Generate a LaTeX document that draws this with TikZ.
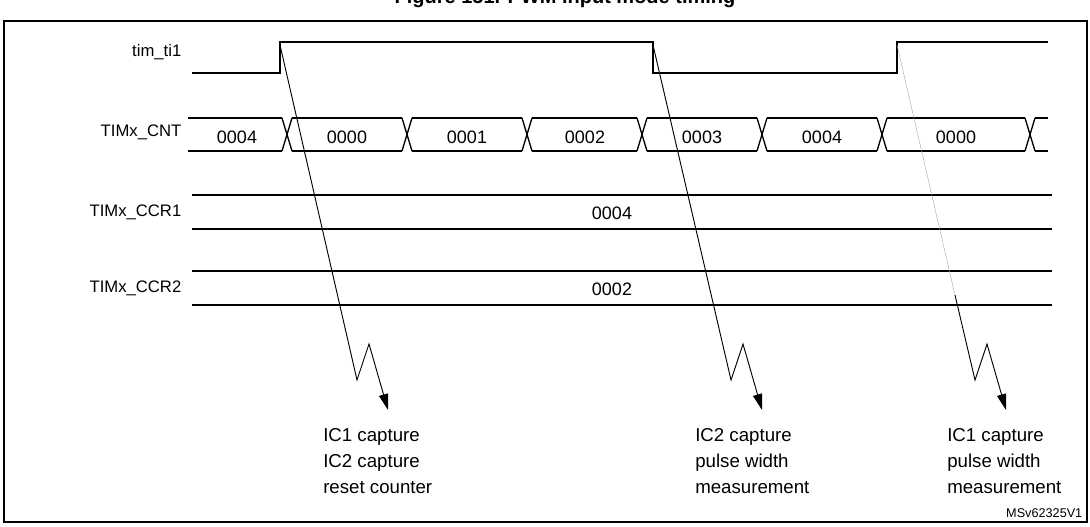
\documentclass[tikz,border=0pt]{standalone}
\usepackage{fontspec}
\setmainfont{Liberation Sans}
\usetikzlibrary{arrows.meta}
\begin{document}
\begin{tikzpicture}[x=0.75pt,y=-0.75pt,
  sig/.style={line width=1.3pt},
  bus/.style={line width=1pt},
  lbl/.style={font=\fontsize{12.5}{15}\selectfont},
  note/.style={font=\fontsize{14}{19.5}\selectfont,align=left,anchor=north west,inner sep=0pt},
  trig/.style={line width=0.7pt},
  tip/.style={-{Triangle[length=12pt,width=7pt]}}]
\useasboundingbox (0,0) rectangle (1090,526);
\begin{scope}
\clip (0,0) rectangle (1090,20);
\node[font=\bfseries\fontsize{15}{17}\selectfont,anchor=base] (title) at (565,3) {Figure 151. PWM input mode timing};
\end{scope}
\draw[line width=1pt] (4,21) -- (1087,21) -- (1087,522) -- (4,522) -- cycle;
\node[font=\fontsize{9.5}{10}\selectfont,anchor=south east] (ref) at (1087,522) {MSv62325V1};
% labels
\node[lbl,anchor=east] (l1) at (186,52) {tim\_ti1};
\node[lbl,anchor=east] (l2) at (186,132) {TIMx\_CNT};
\node[lbl,anchor=east] (l3) at (186,212) {TIMx\_CCR1};
\node[lbl,anchor=east] (l4) at (186,288) {TIMx\_CCR2};
% tim_ti1
\draw[sig] (192,73) -- (280,73) -- (280,42) -- (653,42) -- (653,73) -- (897,73) -- (897,42) -- (1048,42);
% CNT bus
\foreach \a/\b in {188/282,292/402,412/522,532/637,647/757,767/877,887/1025,1035/1048}{
  \draw[bus] (\a,118) -- (\b,118); \draw[bus] (\a,151) -- (\b,151);}
\foreach \c in {287,407,527,642,762,882,1030}{
  \draw[bus] (\c-5,118) -- (\c+5,151); \draw[bus] (\c-5,151) -- (\c+5,118);}
\foreach \t/\x in {0004/237,0000/347,0001/467,0002/585,0003/702,0004/822,0000/956}{
  \node[font=\fontsize{13.5}{16}\selectfont] at (\x,137) {\t};}
% CCR
\draw[bus] (192,195) -- (1052,195); \draw[bus] (192,229) -- (1052,229);
\node[font=\fontsize{13.5}{16}\selectfont] (v1) at (612,213) {0004};
\draw[bus] (192,271) -- (1052,271); \draw[bus] (192,305) -- (1052,305);
\node[font=\fontsize{13.5}{16}\selectfont] (v2) at (612,289) {0002};
% triggers
\coordinate (s1) at (280,45); \coordinate (z1) at (357,380); \coordinate (y1) at (369,344); \coordinate (e1) at (388,410);
\draw[trig,tip] (s1) -- (z1) -- (y1) -- (e1);
\coordinate (s2) at (653,45); \coordinate (z2) at (731,380); \coordinate (y2) at (743,344); \coordinate (e2) at (762,410);
\draw[trig,tip] (s2) -- (z2) -- (y2) -- (e2);
\coordinate (s3) at (897,45); \coordinate (m3) at (955,295); \coordinate (z3) at (975,380); \coordinate (y3) at (987,344); \coordinate (e3) at (1006,410);
\draw[line width=0.3pt,gray!70] (s3) -- (m3);
\draw[trig,tip] (m3) -- (z3) -- (y3) -- (e3);
% notes
\node[note] (n1) at (323,428) {IC1 capture\\IC2 capture\\reset counter};
\node[note] (n2) at (695,428) {IC2 capture\\pulse width\\measurement};
\node[note] (n3) at (947,428) {IC1 capture\\pulse width\\measurement};
\end{tikzpicture}
\end{document}
